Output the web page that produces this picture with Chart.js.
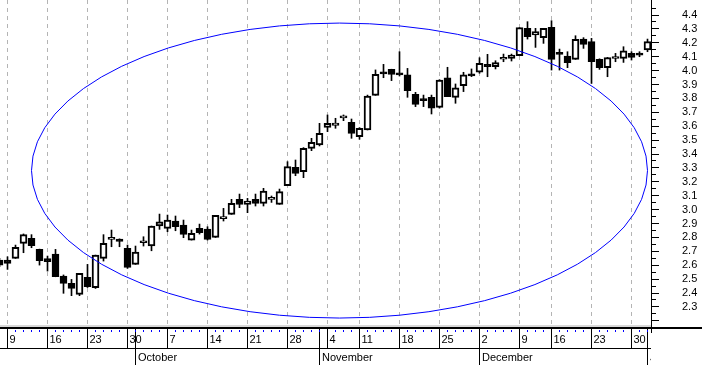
<!DOCTYPE html>
<html>
<head>
<meta charset="utf-8">
<script src="https://cdn.jsdelivr.net/npm/chart.js@4.4.0/dist/chart.umd.min.js"></script>
<style>
  html, body { margin: 0; padding: 0; background: #fff; }
</style>
</head>
<body>
<canvas id="graficoVelas" width="702" height="365"></canvas>
<script>
// trading days (one candle each)
const dates = [
  '2002-09-06',
  '2002-09-09', '2002-09-10', '2002-09-11', '2002-09-12', '2002-09-13',
  '2002-09-16', '2002-09-17', '2002-09-18', '2002-09-19', '2002-09-20',
  '2002-09-23', '2002-09-24', '2002-09-25', '2002-09-26', '2002-09-27',
  '2002-09-30', '2002-10-01', '2002-10-02', '2002-10-03', '2002-10-04',
  '2002-10-07', '2002-10-08', '2002-10-09', '2002-10-10', '2002-10-11',
  '2002-10-14', '2002-10-15', '2002-10-16', '2002-10-17', '2002-10-18',
  '2002-10-21', '2002-10-22', '2002-10-23', '2002-10-24', '2002-10-25',
  '2002-10-28', '2002-10-29', '2002-10-30', '2002-10-31', '2002-11-01',
  '2002-11-04', '2002-11-05', '2002-11-06', '2002-11-07',
  '2002-11-11', '2002-11-12', '2002-11-13', '2002-11-14', '2002-11-15',
  '2002-11-18', '2002-11-19', '2002-11-20', '2002-11-21', '2002-11-22',
  '2002-11-25', '2002-11-26', '2002-11-27', '2002-11-28', '2002-11-29',
  '2002-12-02', '2002-12-03', '2002-12-04', '2002-12-05', '2002-12-06',
  '2002-12-09', '2002-12-10', '2002-12-11', '2002-12-12',
  '2002-12-16', '2002-12-17', '2002-12-18', '2002-12-19', '2002-12-20',
  '2002-12-23', '2002-12-24', '2002-12-25', '2002-12-26', '2002-12-27',
  '2002-12-30', '2002-12-31',
  '2003-01-02'
];

const open = [
  2.637, 2.637, 2.649, 2.757, 2.793, 2.714, 2.647, 2.681, 2.522, 2.469, 2.390,
  2.513, 2.438, 2.649, 2.786, 2.788, 2.721, 2.606, 2.762, 2.738, 2.882,
  2.865, 2.918, 2.889, 2.781, 2.865, 2.860, 2.800, 2.935, 2.966, 3.074,
  3.038, 3.074, 3.045, 3.074, 3.038, 3.172, 3.304, 3.273, 3.441, 3.465,
  3.592, 3.606, 3.660, 3.628, 3.525, 3.573, 3.822, 3.988, 4.009, 3.981,
  3.969, 3.829, 3.786, 3.808, 3.736, 3.949, 3.808, 3.892, 3.976, 3.988,
  4.045, 4.028, 4.082, 4.088, 4.107, 4.304, 4.256, 4.237, 4.311, 4.124,
  4.105, 4.081, 4.227, 4.208, 4.081, 4.021, 4.087, 4.088, 4.124, 4.124, 4.148
];
const high = [
  2.650, 2.661, 2.745, 2.825, 2.820, 2.716, 2.666, 2.714, 2.530, 2.498, 2.541,
  2.606, 2.673, 2.820, 2.853, 2.790, 2.745, 2.738, 2.805, 2.882, 2.968,
  2.961, 2.954, 2.925, 2.853, 2.896, 2.877, 2.959, 3.009, 3.074, 3.112,
  3.081, 3.112, 3.153, 3.098, 3.148, 3.345, 3.357, 3.446, 3.513, 3.621,
  3.681, 3.657, 3.681, 3.652, 3.590, 3.824, 4.005, 4.045, 4.010, 4.136,
  4.016, 3.844, 3.824, 3.824, 3.935, 4.024, 3.904, 3.988, 4.012, 4.093,
  4.117, 4.071, 4.119, 4.119, 4.309, 4.352, 4.304, 4.304, 4.359, 4.155,
  4.136, 4.251, 4.237, 4.232, 4.085, 4.095, 4.124, 4.172, 4.136, 4.136, 4.227
];
const low = [
  2.590, 2.570, 2.649, 2.690, 2.726, 2.601, 2.558, 2.517, 2.398, 2.381, 2.381,
  2.440, 2.433, 2.630, 2.733, 2.733, 2.577, 2.606, 2.738, 2.704, 2.858,
  2.841, 2.848, 2.798, 2.781, 2.824, 2.781, 2.800, 2.918, 2.966, 3.014,
  2.978, 3.026, 3.026, 3.052, 3.038, 3.172, 3.244, 3.230, 3.424, 3.458,
  3.561, 3.585, 3.640, 3.513, 3.506, 3.573, 3.822, 3.949, 3.928, 3.961,
  3.808, 3.741, 3.741, 3.688, 3.730, 3.813, 3.765, 3.849, 3.957, 3.981,
  3.956, 4.012, 4.064, 4.069, 4.107, 4.227, 4.167, 4.196, 4.004, 4.004,
  4.021, 4.081, 4.160, 3.908, 4.009, 3.956, 4.064, 4.059, 4.076, 4.100, 4.136
];
const close = [
  2.600, 2.613, 2.728, 2.820, 2.740, 2.633, 2.625, 2.517, 2.469, 2.433, 2.541,
  2.446, 2.673, 2.757, 2.786, 2.772, 2.585, 2.695, 2.762, 2.882, 2.913,
  2.925, 2.877, 2.822, 2.829, 2.834, 2.786, 2.959, 2.937, 3.045, 3.038,
  3.062, 3.045, 3.134, 3.078, 3.129, 3.309, 3.261, 3.441, 3.484, 3.549,
  3.621, 3.623, 3.662, 3.549, 3.585, 3.817, 3.973, 3.976, 3.973, 3.969,
  3.856, 3.757, 3.784, 3.729, 3.932, 3.813, 3.877, 3.969, 3.961, 4.052,
  4.028, 4.057, 4.084, 4.112, 4.309, 4.244, 4.280, 4.304, 4.081, 4.117,
  4.057, 4.225, 4.189, 4.064, 4.021, 4.093, 4.089, 4.143, 4.095, 4.112, 4.208
];

const yTicks = [2.2, 2.3, 2.4, 2.5, 2.6, 2.7, 2.8, 2.9, 3.0, 3.1, 3.2, 3.3,
  3.4, 3.5, 3.6, 3.7, 3.8, 3.9, 4.0, 4.1, 4.2, 4.3, 4.4];
const monthStarts = ['2002-10-01', '2002-11-01', '2002-12-02', '2003-01-02'];
const monthNames = ['October', 'November', 'December', 'January'];

// hand drawn ellipse, in data units (candle index, price)
const ellipse = { cx: 42.5, cy: 3.281, rx: 38.5, ry: 1.061 };

const weekday = (s) => new Date(s + 'T12:00:00').getDay();
const weekStarts = dates
  .map((d, k) => k)
  .filter((k) => k > 0 && weekday(dates[k]) < weekday(dates[k - 1]));
const monthIdx = monthStarts.map((d) => dates.indexOf(d));

Chart.defaults.font.family = "'Liberation Sans', Arial, sans-serif";
Chart.defaults.font.size = 11;
Chart.defaults.color = "#000";

const ellipsePlugin = {
  id: "ellipse",
  afterDatasetsDraw(chart) {
    const { ctx, chartArea: a, scales: { x, y } } = chart;
    const cx = x.getPixelForValue(ellipse.cx);
    const cy = y.getPixelForValue(ellipse.cy);
    const rx = Math.abs(x.getPixelForValue(ellipse.cx + ellipse.rx) - cx);
    const ry = Math.abs(y.getPixelForValue(ellipse.cy + ellipse.ry) - cy);
    ctx.save();
    ctx.beginPath();
    ctx.rect(a.left, a.top, a.width, a.height);
    ctx.clip();
    ctx.beginPath();
    ctx.ellipse(cx, cy, rx, ry, 0, 0, Math.PI * 2);
    ctx.strokeStyle = "#0000ff";
    ctx.lineWidth = 1;
    ctx.stroke();
    ctx.restore();
  },
};

// the two-row date axis (day row + month row) and minor price ticks
const dateRowsPlugin = {
  id: "dateRows",
  afterDraw(chart) {
    const { ctx, chartArea: a, scales: { x, y } } = chart;
    const b = a.bottom;
    const px = (k) => Math.floor(x.getPixelForValue(k));
    ctx.save();
    ctx.fillStyle = "#d8d8d8";
    ctx.fillRect(0, b, a.right, 2);
    ctx.fillStyle = "#000";
    ctx.fillRect(0, b + 2, chart.width, 2);
    ctx.fillRect(0, b + 23, a.right, 1);
    ctx.fillRect(a.right, b, 1, 8);

    weekStarts.forEach((k) => ctx.fillRect(px(k), b + 4, 1, 19));
    monthIdx.forEach((k) => ctx.fillRect(px(k), b + 4, 1, 36));

    ctx.fillStyle = "#0000ff";
    dates.forEach((d, k) => {
      if (k > 0 && !weekStarts.includes(k)) ctx.fillRect(px(k), b + 5, 1, 2);
    });

    // minor ticks on price axis
    ctx.fillStyle = "#000";
    yTicks.forEach((v) => {
      const py = Math.floor(y.getPixelForValue(v + 0.05));
      if (py >= a.top) ctx.fillRect(a.right, py, 5, 1);
    });

    ctx.beginPath();
    ctx.rect(0, b, a.right, 40);
    ctx.clip();
    ctx.font = "11px 'Liberation Sans', Arial, sans-serif";
    ctx.textAlign = "left";
    ctx.textBaseline = "alphabetic";
    monthIdx.forEach((k, i) => ctx.fillText(monthNames[i], px(k) + 3, b + 36));
    ctx.restore();
  },
};

const graficoVelas = new Chart(document.getElementById("graficoVelas"), {
  type: "bar",
  data: {
    datasets: [
      {
        label: "Cuerpo",
        data: dates.map((d, k) => ({ x: k, y: [open[k], close[k]] })),
        backgroundColor: (c) =>
          c.dataIndex === undefined || close[c.dataIndex] >= open[c.dataIndex] ? "#fff" : "#000",
        borderColor: "#000",
        borderWidth: 2,
        borderSkipped: false,
        barThickness: 7,
        minBarLength: 2,
        grouped: false,
        order: 0,
      },
      {
        label: "Rango",
        data: dates.map((d, k) => ({ x: k, y: [low[k], high[k]] })),
        backgroundColor: "#000",
        borderWidth: 0,
        barThickness: 1,
        grouped: false,
        order: 1,
      },
    ],
  },
  options: {
    responsive: false,
    animation: false,
    events: [],
    plugins: {
      legend: { display: false },
      tooltip: { enabled: false },
    },
    scales: {
      x: {
        type: "linear",
        offset: false,
        min: 0.0625,
        max: 81.4375,
        afterBuildTicks: (s) => {
          s.ticks = weekStarts.map((k) => ({ value: k }));
        },
        afterFit: (s) => {
          s.height = 40;
          s.paddingLeft = 0;
          s.paddingRight = 0;
        },
        ticks: {
          autoSkip: false,
          maxRotation: 0,
          align: "start",
          labelOffset: 2,
          padding: 8,
          callback: (v) => String(Number(dates[v].slice(8))),
        },
        grid: {
          offset: false,
          drawTicks: false,
          color: "#b4b4b4",
          borderDash: [4, 4],
        },
        border: { display: false, dash: [4, 4] },
      },
      y: {
        position: "right",
        min: 2.17,
        max: 4.508,
        afterBuildTicks: (s) => {
          s.ticks = yTicks.map((v) => ({ value: v }));
        },
        afterFit: (s) => {
          s.width = 51;
          s.paddingTop = 0;
          s.paddingBottom = 0;
        },
        ticks: {
          autoSkip: false,
          padding: 23,
          callback: (v) => (v < 2.25 ? "" : v.toFixed(1)),
        },
        grid: {
          drawOnChartArea: false,
          tickLength: 8,
          tickColor: "#000",
        },
        border: { display: true, color: "#000" },
      },
    },
  },
  plugins: [ellipsePlugin, dateRowsPlugin],
});
</script>
</body>
</html>
